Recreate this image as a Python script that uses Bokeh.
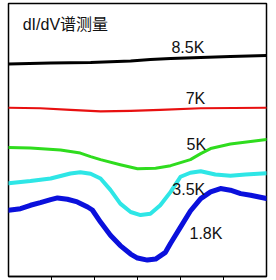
from bokeh.plotting import figure
from bokeh.models import Range1d, Label, FixedTicker
from bokeh.embed import file_html
from bokeh.resources import INLINE

# bias (arb. units) and dI/dV (offset, arb. units)
x_85 = [-3.0, -2.02, -1.09, -0.16, 0.30, 0.77, 1.47, 2.16, 3.0]
y_85 = [2.11, 2.12, 2.125, 2.14, 2.155, 2.165, 2.175, 2.185, 2.195]

x_7 = [-3.0, -2.26, -1.56, -0.86, -0.16, 0.53, 1.47, 3.0]
y_7 = [1.675, 1.67, 1.655, 1.64, 1.645, 1.655, 1.67, 1.675]

x_5 = [-3.0, -2.49, -1.79, -1.33, -1.09, -0.86, -0.40, 0.0, 0.42, 0.77, 1.23, 1.47, 1.70, 2.16, 2.63, 3.0]
y_5 = [1.28, 1.275, 1.255, 1.225, 1.19, 1.16, 1.11, 1.07, 1.075, 1.10, 1.16, 1.22, 1.27, 1.315, 1.34, 1.36]

x_35 = [-3.0, -2.49, -2.02, -1.56, -1.33, -1.09, -0.86, -0.63, -0.40, -0.16, 0.07, 0.30, 0.53, 0.77, 1.0, 1.23, 1.47, 1.81, 2.16, 2.51, 3.0]
y_35 = [0.925, 0.947, 0.973, 1.023, 1.035, 1.02, 0.973, 0.86, 0.723, 0.64, 0.61, 0.623, 0.707, 0.84, 0.99, 1.03, 1.045, 1.013, 1.0, 1.013, 1.025]

x_18 = [-3.0, -2.72, -2.49, -2.26, -2.02, -1.86, -1.63, -1.40, -1.16, -1.05, -0.86, -0.63, -0.40, -0.16, 0.0, 0.23, 0.42, 0.65, 0.77, 1.0, 1.23, 1.47, 1.70, 1.93, 2.16, 2.40, 2.63, 3.0]
y_18 = [0.657, 0.673, 0.707, 0.733, 0.763, 0.78, 0.767, 0.74, 0.69, 0.66, 0.54, 0.41, 0.307, 0.223, 0.183, 0.163, 0.173, 0.24, 0.33, 0.49, 0.65, 0.773, 0.84, 0.873, 0.857, 0.823, 0.807, 0.775]

tick_positions = [-2, -1, 0, 1, 2]
title_text = "dI/dV谱测量"
labels = ["8.5K", "7K", "5K", "3.5K", "1.8K"]
label_x = [0.79, 1.12, 1.14, 0.81, 1.21]
label_y = [2.27, 1.77, 1.31, 0.86, 0.43]

p = figure(width=276, height=280, output_backend="svg", toolbar_location=None,
           x_range=Range1d(-3, 3), y_range=Range1d(0, 2.71),
           min_border_left=8, min_border_right=10, min_border_top=3, min_border_bottom=0)
p.background_fill_color = "white"
p.border_fill_color = "white"
p.outline_line_color = "black"
p.outline_line_width = 1.5
p.grid.visible = False
p.yaxis.visible = False
p.xaxis.ticker = FixedTicker(ticks=tick_positions)
p.xaxis.major_label_overrides = {t: "" for t in tick_positions}
p.xaxis.minor_tick_line_color = None
p.xaxis.major_tick_out = 4
p.xaxis.major_tick_in = 0
p.xaxis.major_tick_line_width = 1
p.xaxis.axis_line_width = 1.5
p.xaxis.major_label_standoff = 0

series = [
    (x_85, y_85, "#000000", 3),
    (x_7, y_7, "#e81010", 2.2),
    (x_5, y_5, "#2fdc1e", 3),
    (x_35, y_35, "#2ee6e6", 4),
    (x_18, y_18, "#0a10dc", 5),
]
for xs, ys, col, w in series:
    p.line(xs, ys, line_color=col, line_width=w, line_join="round", line_cap="round")

p.add_layout(Label(x=-2.67, y=2.50, text=title_text, text_font="Liberation Sans, Noto Sans CJK SC",
                   text_font_size="16px", text_baseline="middle", text_color="#111111"))
for t, lx, ly in zip(labels, label_x, label_y):
    p.add_layout(Label(x=lx, y=ly, text=t, text_font="Liberation Sans",
                       text_font_size="16px", text_baseline="middle", text_color="#111111"))

open("out.html", "w").write(file_html(p, INLINE))
